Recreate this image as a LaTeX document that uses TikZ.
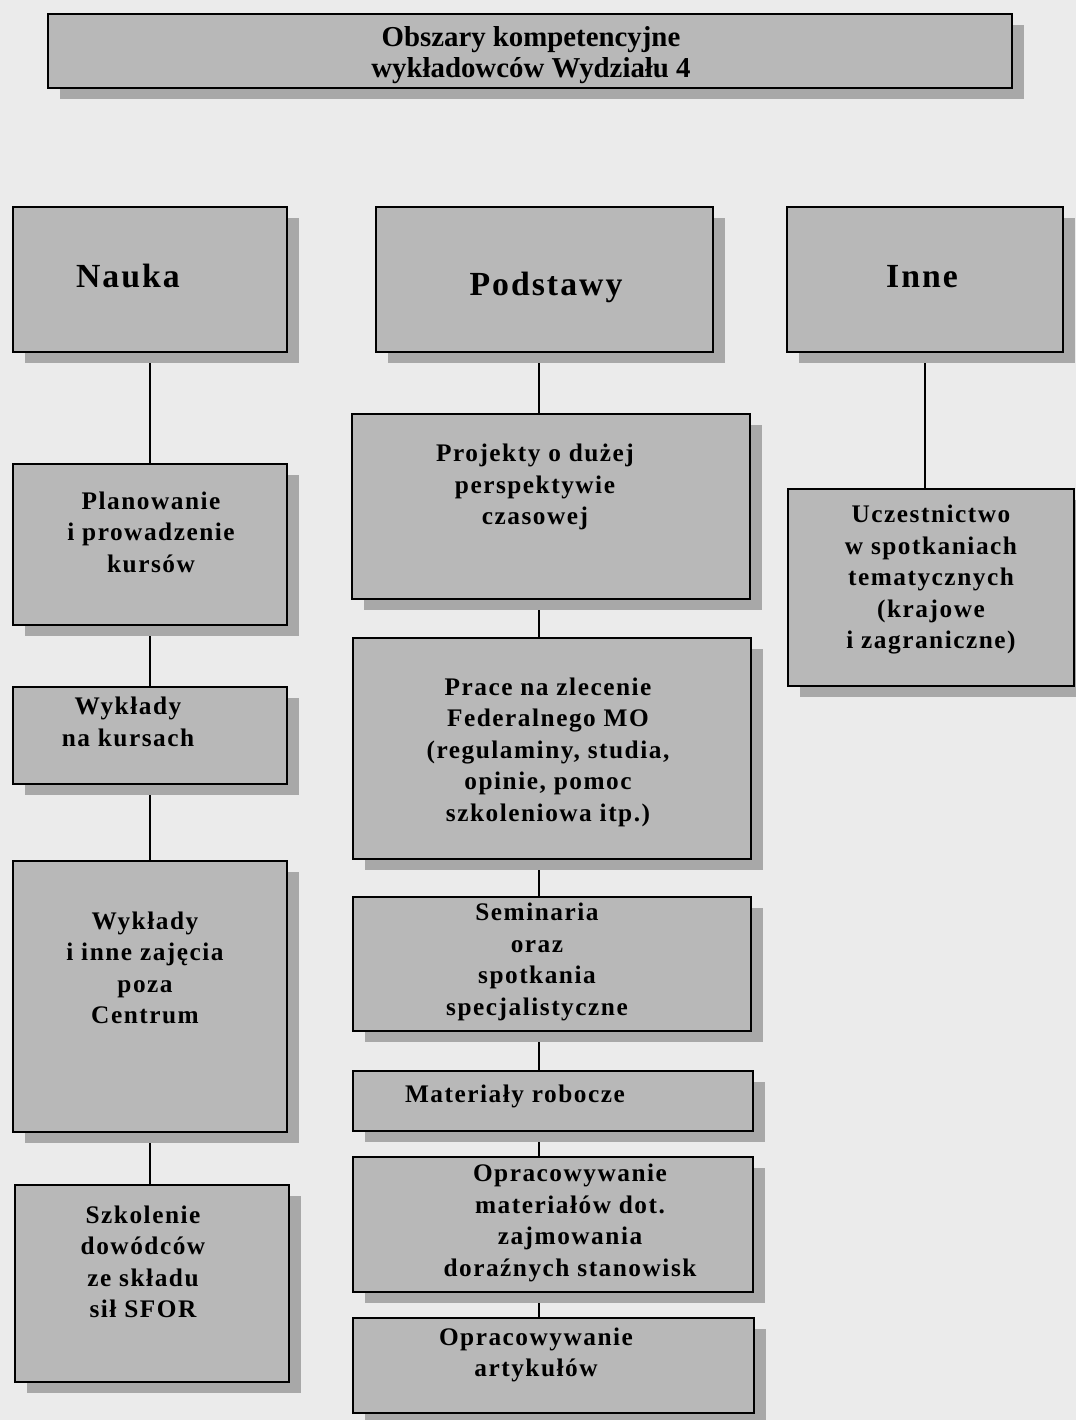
\documentclass[tikz,border=0pt]{standalone}
\usepackage{fontspec}
\setmainfont{Liberation Serif}
\newfontfamily\boxfont{Liberation Serif}[LetterSpace=6]
\newfontfamily\headfont{Liberation Serif}[LetterSpace=6]
\usetikzlibrary{shadows,backgrounds}

\definecolor{pagegray}{gray}{0.92}
\definecolor{boxgray}{gray}{0.72}
\definecolor{shadowgray}{gray}{0.66}

\tikzset{
  box/.style={draw, line width=1.1pt, fill=boxgray, inner sep=0pt,
    drop shadow={shadow xshift=0.3cm, shadow yshift=-0.28cm, fill=shadowgray, opacity=1}},
  dims/.style 2 args={minimum width=#1*0.025cm, minimum height=#2*0.025cm},
  txt/.style={align=center, inner sep=0pt, font=\boxfont\bfseries\fontsize{18}{22.4}\selectfont},
  head/.style={txt, font=\headfont\bfseries\fontsize{24}{28}\selectfont},
  title/.style={align=center, inner sep=0pt, font=\bfseries\fontsize{20.5}{21.5}\selectfont},
  link/.style={line width=1.2pt},
}

\begin{document}
\begin{tikzpicture}[x=0.025cm, y=-0.025cm]
  \useasboundingbox (0,0) rectangle (1076,1420);

  % title
  \node[box, dims={964}{74}] (top) at (530,51) {};
  \node[title] (top-t) at (531,55) {Obszary kompetencyjne\\wykładowców Wydziału 4};

  % three heads
  \node[box, dims={274}{145}] (nauka) at (150,279.5) {};
  \node[box, dims={337}{145}] (podst) at (544.5,279.5) {};
  \node[box, dims={276}{145}] (inne) at (925,279.5) {};
  \node[head] (nauka-t) at (128,276) {Nauka};
  \node[head] (podst-t) at (546,287) {Podstawy};
  \node[head] (inne-t) at (922,277) {Inne};

  % left column
  \node[box, dims={274}{161}] (plan) at (150,544.5) {};
  \node[box, dims={274}{97}] (wyklk) at (150,735.5) {};
  \node[box, dims={274}{271}] (wykli) at (150,996.5) {};
  \node[box, dims={274}{197}] (szkol) at (152,1283.5) {};
  \node[txt] (plan-t) at (151,532) {Planowanie\\i prowadzenie\\kursów};
  \node[txt] (wyklk-t) at (128,722) {Wykłady\\na kursach};
  \node[txt] (wykli-t) at (145,968) {Wykłady\\i inne zajęcia\\poza\\Centrum};
  \node[txt] (szkol-t) at (143,1262) {Szkolenie\\dowódców\\ze składu\\sił SFOR};

  % middle column
  \node[box, dims={398}{185}] (proj) at (551,506.5) {};
  \node[box, dims={398}{221}] (prace) at (552,748.5) {};
  \node[box, dims={398}{134}] (semin) at (552,964) {};
  \node[box, dims={400}{60}] (mater) at (553,1101) {};
  \node[box, dims={400}{135}] (oprmat) at (553,1224.5) {};
  \node[box, dims={401}{95}] (oprart) at (553.5,1365.5) {};
  \node[txt] (proj-t) at (535,487) {Projekty o dużej\\perspektywie\\czasowej};
  \node[txt] (prace-t) at (548,752) {Prace na zlecenie\\Federalnego MO\\(regulaminy, studia,\\opinie, pomoc\\szkoleniowa itp.)};
  \node[txt] (semin-t) at (537,962) {Seminaria\\oraz\\spotkania\\specjalistyczne};
  \node[txt] (mater-t) at (515,1096) {Materiały robocze};
  \node[txt] (oprmat-t) at (570,1223) {Opracowywanie\\materiałów dot.\\zajmowania\\doraźnych stanowisk};
  \node[txt] (oprart-t) at (536,1355) {Opracowywanie\\artykułów};

  % right column
  \node[box, dims={286}{197}] (ucz) at (931,587.5) {};
  \node[txt] (ucz-t) at (931,580) {Uczestnictwo\\w spotkaniach\\tematycznych\\(krajowe\\i zagraniczne)};

  \coordinate (spine) at (539,0);

  \begin{scope}[on background layer]
    \fill[pagegray] (0,0) rectangle (1076,1420);
    \draw[link] (nauka.south) -- (plan.north);
    \draw[link] (plan.south) -- (wyklk.north);
    \draw[link] (wyklk.south) -- (wykli.north);
    \draw[link] (wykli.south) -- (wykli.south |- szkol.north);
    \draw[link] (podst.south -| spine) -- (proj.north -| spine);
    \draw[link] (proj.south -| spine) -- (prace.north -| spine);
    \draw[link] (prace.south -| spine) -- (semin.north -| spine);
    \draw[link] (semin.south -| spine) -- (mater.north -| spine);
    \draw[link] (mater.south -| spine) -- (oprmat.north -| spine);
    \draw[link] (oprmat.south -| spine) -- (oprart.north -| spine);
    \draw[link] (inne.south) -- (inne.south |- ucz.north);
  \end{scope}
\end{tikzpicture}
\end{document}
